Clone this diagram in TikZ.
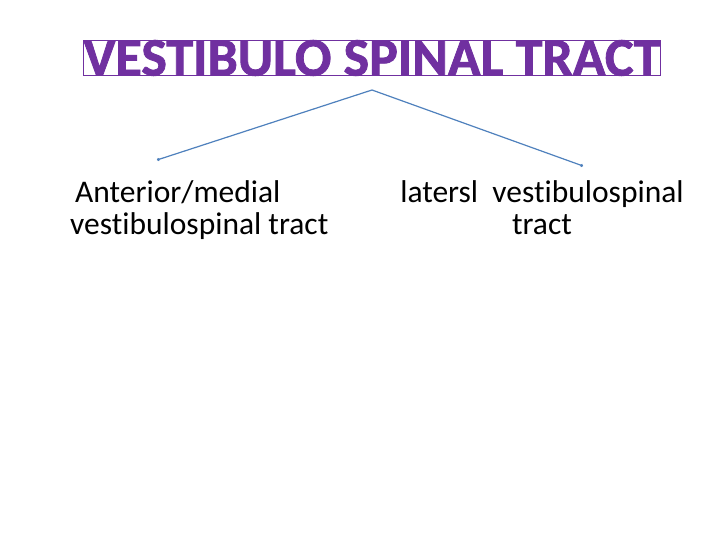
\documentclass[tikz,border=0pt]{standalone}
\usepackage{fontspec}
\setmainfont[RawFeature={-liga;-clig}]{Carlito}
\usetikzlibrary{arrows.meta}
\definecolor{ttl}{RGB}{112,48,160}
\definecolor{arr}{RGB}{79,129,189}
\begin{document}
\begin{tikzpicture}[x=1pt,y=1pt,
  lbl/.style={font=\fontsize{31.5}{32}\selectfont, align=center, inner sep=0pt},
  conn/.style={draw=arr, line width=1.2pt, -{Circle[length=3pt]}}]
\useasboundingbox (0,0) rectangle (720,540);
\fill[white] (0,0) rectangle (720,540);
\node[inner sep=0pt, text=ttl, draw=ttl, line width=0.8pt, font=\fontsize{54}{60}\selectfont\bfseries] (title) at (372,482) {\pgfsetstrokecolor{ttl}\special{pdf:literal 2 Tr}VESTIBULO SPINAL TRACT\special{pdf:literal 0 Tr}};
\coordinate (top) at (372,450);
\node[lbl, align=left, anchor=north west] (left) at (70,360) {\hspace*{5pt}Anterior/medial\\vestibulospinal tract};
\node[lbl, anchor=north] (right) at (542,360) {latersl\ \ vestibulospinal\\tract};
\coordinate (le) at (157,380);
\coordinate (re) at (583,374);
\draw[conn] (top) -- (le);
\draw[conn] (top) -- (re);
\end{tikzpicture}
\end{document}
